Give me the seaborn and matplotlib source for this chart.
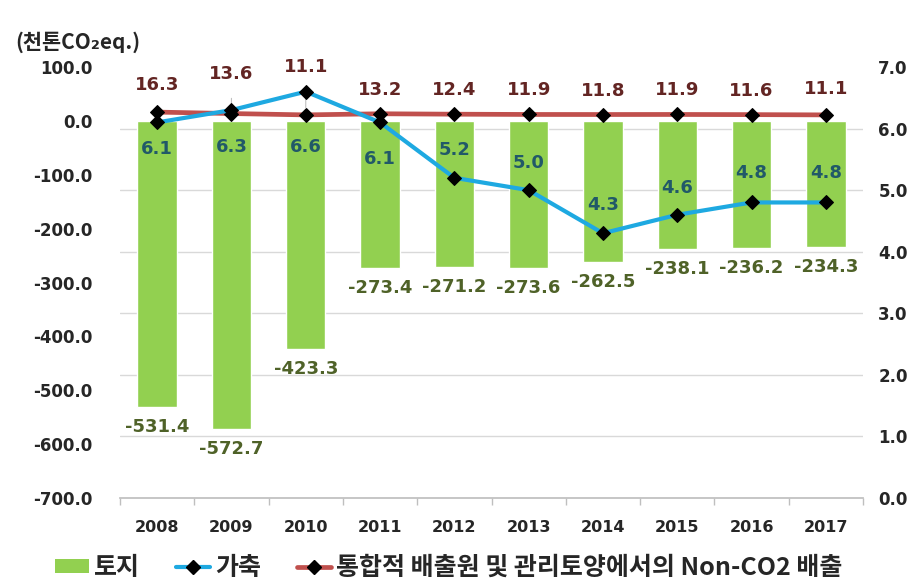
import numpy as np
import pandas as pd
import matplotlib
matplotlib.use("Agg")
import matplotlib.pyplot as plt
from matplotlib.ticker import FixedLocator, FormatStrFormatter, MultipleLocator
from matplotlib.lines import Line2D
from matplotlib.patches import Patch
from matplotlib.font_manager import FontProperties
import seaborn as sns

# ---- data -------------------------------------------------------------
years = ["2008", "2009", "2010", "2011", "2012", "2013", "2014", "2015", "2016", "2017"]
land = [-531.4, -572.7, -423.3, -273.4, -271.2, -273.6, -262.5, -238.1, -236.2, -234.3]
livestock = [6.1, 6.3, 6.6, 6.1, 5.2, 5.0, 4.3, 4.6, 4.8, 4.8]
non_co2 = [16.3, 13.6, 11.1, 13.2, 12.4, 11.9, 11.8, 11.9, 11.6, 11.1]

land_name = "토지"
livestock_name = "가축"
non_co2_name = "통합적 배출원 및 관리토양에서의 Non-CO2 배출"
unit_label = "(천톤CO₂eq.)"

# vertical offsets (pixels) of the value labels from their points
livestock_label_dy = [-27, -37, -55, -37, 28, 27, 28, 27, 29, 29]
non_co2_label_dy = [27, 40, 48, 24, 24, 24, 24, 24, 24, 26]
land_label_dy = -20

# ---- style ------------------------------------------------------------
GREEN = "#92D050"
CYAN = "#1EA9E1"
RED = "#C0504D"
LAND_TXT = "#4F6228"
LIVESTOCK_TXT = "#215968"
NONCO2_TXT = "#632523"
TICK_TXT = "#262626"
GRID = "#D9D9D9"

sns.set_theme(style="white")
plt.rcParams["font.family"] = ["DejaVu Sans", "Noto Sans CJK KR"]
KR = ["Noto Sans CJK KR", "DejaVu Sans"]

df = pd.DataFrame({"year": years, "land": land,
                   "livestock": livestock, "non_co2": non_co2})

W, H = 918, 587
fig = plt.figure(figsize=(W / 100, H / 100), dpi=100)
ax = fig.add_axes([120 / W, 1 - 498 / H, 743 / W, 431 / H])

# bars: land sink (left axis)
sns.barplot(data=df, x="year", y="land", ax=ax, color=GREEN, saturation=1,
            width=0.53, zorder=2)

# Non-CO2 line (left axis)
sns.lineplot(data=df, x="year", y="non_co2", ax=ax, color=RED, lw=3.4,
             marker="D", markersize=7, markerfacecolor="black",
             markeredgecolor="black", sort=False, zorder=4)

# livestock line (right axis)
ax2 = ax.twinx()
sns.lineplot(data=df, x="year", y="livestock", ax=ax2, color=CYAN, lw=3,
             marker="D", markersize=7, markerfacecolor="black",
             markeredgecolor="black", sort=False, zorder=5)

ax.set_xlim(-0.5, len(years) - 0.5)
ax.set_ylim(-700, 100)
ax2.set_ylim(0, 7)

# left axis ticks
ax.yaxis.set_major_locator(MultipleLocator(100))
ax.yaxis.set_major_formatter(FormatStrFormatter("%.1f"))
ax.tick_params(axis="y", which="major", length=0, pad=20, labelsize=12,
               labelcolor=TICK_TXT)
# horizontal gridlines follow the right-hand scale
ax.yaxis.set_minor_locator(FixedLocator(np.linspace(-700, 100, 8)))
ax.tick_params(axis="y", which="minor", length=0)
ax.grid(False)
ax.grid(which="minor", axis="y", color=GRID, lw=1)
ax.set_axisbelow(True)

# right axis ticks
ax2.yaxis.set_major_locator(MultipleLocator(1))
ax2.yaxis.set_major_formatter(FormatStrFormatter("%.1f"))
ax2.tick_params(axis="y", length=0, pad=11, labelsize=12, labelcolor=TICK_TXT)
ax2.grid(False)

# category axis
ax.tick_params(axis="x", which="major", length=0, pad=16, labelsize=11.5,
               labelcolor=TICK_TXT)
ax.xaxis.set_minor_locator(FixedLocator(np.arange(-0.5, len(years), 1.0)))
ax.tick_params(axis="x", which="minor", length=5, width=1, color="#BFBFBF",
               direction="out", bottom=True)
for lab in ax.get_xticklabels() + ax.get_yticklabels() + ax2.get_yticklabels():
    lab.set_fontweight("bold")

for sp in ax.spines.values():
    sp.set_visible(False)
ax.spines["bottom"].set_visible(True)
ax.spines["bottom"].set_color("#BFBFBF")
for sp in ax2.spines.values():
    sp.set_visible(False)

ax.set_xlabel("")
ax.set_ylabel("")
ax2.set_xlabel("")
ax2.set_ylabel("")

# value labels
for i, v in enumerate(land):
    ax.annotate(f"{v:.1f}", xy=(i, v), xytext=(0, land_label_dy),
                textcoords="offset pixels", ha="center", va="center",
                color=LAND_TXT, fontsize=13, fontweight="bold", zorder=6)

for i, (v, dy) in enumerate(zip(non_co2, non_co2_label_dy)):
    arrow = None
    if dy > 30:
        arrow = dict(arrowstyle="-", color="#BFBFBF", lw=0.8,
                     shrinkA=9, shrinkB=5)
    ax.annotate(f"{v:.1f}", xy=(i, v), xytext=(0, dy),
                textcoords="offset pixels", ha="center", va="center",
                color=NONCO2_TXT, fontsize=13, fontweight="bold",
                arrowprops=arrow, zorder=6)

for i, (v, dy) in enumerate(zip(livestock, livestock_label_dy)):
    ax2.annotate(f"{v:.1f}", xy=(i, v), xytext=(0, dy),
                 textcoords="offset pixels", ha="center", va="center",
                 color=LIVESTOCK_TXT, fontsize=13, fontweight="bold", zorder=6)

# unit label
fig.text(15 / W, 1 - 42 / H, unit_label, ha="left", va="center",
         fontsize=15, fontweight="bold", family=KR, color=TICK_TXT)

# legend
handles = [
    Patch(facecolor=GREEN, edgecolor="none"),
    Line2D([], [], color=CYAN, lw=3, marker="D", markersize=7,
           markerfacecolor="black", markeredgecolor="black"),
    Line2D([], [], color=RED, lw=3.4, marker="D", markersize=7,
           markerfacecolor="black", markeredgecolor="black"),
]
leg = fig.legend(handles, [land_name, livestock_name, non_co2_name],
                 loc="center left", bbox_to_anchor=(55 / W, 1 - 568 / H),
                 ncol=3, frameon=False,
                 prop=FontProperties(family=KR, size=18, weight="bold"),
                 handlelength=1.35, handleheight=0.5, handletextpad=0.2,
                 columnspacing=1.45, borderpad=0, borderaxespad=0)
for t in leg.get_texts():
    t.set_color(TICK_TXT)

fig.savefig("out.png", dpi=100)
